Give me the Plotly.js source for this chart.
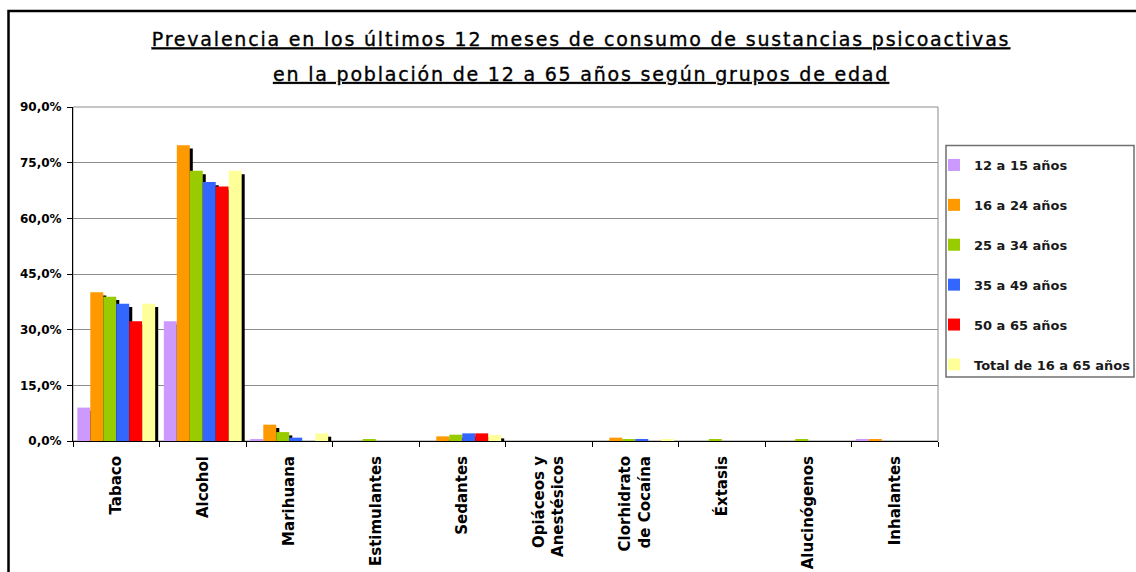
<!DOCTYPE html>
<html>
<head>
<meta charset="utf-8">
<script src="https://cdn.plot.ly/plotly-3.0.1.min.js"></script>
<style>
html,body{margin:0;padding:0;background:#fff;}
#chart{width:1136px;height:572px;}
.gtitle, .annotation-text{letter-spacing:1.8px;stroke:#000;stroke-width:0.35px;}
</style>
</head>
<body>
<div id="chart"></div>
<script>
// ---- data (percent) ----
const categories = ['Tabaco','Alcohol','Marihuana','Estimulantes','Sedantes','Opiáceos y<br>Anestésicos','Clorhidrato<br>de Cocaína','Éxtasis','Alucinógenos','Inhalantes'];
const seriesNames = ['12 a 15 años','16 a 24 años','25 a 34 años','35 a 49 años','50 a 65 años','Total de 16 a 65 años'];
const s12a15  = [9.0, 32.3, 0.45, 0,    0,    0, 0,    0,    0,    0.45];
const s16a24  = [40.1, 79.7, 4.4,  0,    1.25, 0, 0.9,  0,    0,    0.45];
const s25a34  = [38.9, 72.8, 2.4,  0.45, 1.7,  0, 0.45, 0.45, 0.45, 0];
const s35a49  = [37.0, 69.8, 0.9,  0,    2.06, 0, 0.45, 0,    0,    0];
const s50a65  = [32.3, 68.6, 0,    0,    2.06, 0, 0,    0,    0,    0];
const sTotal  = [37.0, 72.8, 2.06, 0,    1.6,  0, 0.3,  0,    0,    0];
const yTickVals   = [0, 15, 30, 45, 60, 75, 90];
const yTickLabels = ['0,0%','15,0%','30,0%','45,0%','60,0%','75,0%','90,0%'];
const titleLine1 = 'Prevalencia en los últimos 12 meses de consumo de sustancias psicoactivas';
const titleLine2 = 'en la población de 12 a 65 años según grupos de edad';

const seriesValues = [s12a15, s16a24, s25a34, s35a49, s50a65, sTotal];
const colors = ['#CC99FF','#FF9900','#99CC00','#3366FF','#FF0000','#FFFF99'];

// ---- geometry helpers (plot area in px) ----
const W = 1136, H = 572;
const L = 73, R = 938, T = 107, B = 441;
const px2x = p => (p - L) / (R - L);
const px2y = p => (B - p) / (B - T);

const barW = 0.15;
const shadowDx = 0.035;
const shadowDy = -0.9;

const traces = [];
// shadows first (drawn behind)
seriesValues.forEach((vals, i) => {
  traces.push({
    type: 'bar', x: categories, y: vals,
    base: shadowDy,
    width: barW, offset: -0.45 + barW * i + shadowDx,
    marker: {color: '#000000', line: {width: 0}},
    showlegend: false, hoverinfo: 'skip'
  });
});
seriesValues.forEach((vals, i) => {
  traces.push({
    type: 'bar', x: categories, y: vals, name: seriesNames[i],
    width: barW, offset: -0.45 + barW * i,
    marker: {color: colors[i], line: {width: 0}},
    legendgroup: 'g' + i,
    hovertemplate: '%{x}: %{y:.1f}%<extra>' + seriesNames[i] + '</extra>'
  });
});

const titleFont = {family: 'DejaVu Sans', size: 19, color: '#000000', lineposition: 'under'};

const layout = {
  width: W, height: H,
  margin: {l: L, r: W - R, t: T, b: H - B, pad: 0, autoexpand: false},
  paper_bgcolor: '#ffffff', plot_bgcolor: '#ffffff',
  separators: ',.',
  barmode: 'overlay',
  showlegend: true,
  title: {
    text: titleLine1,
    font: titleFont,
    xref: 'container', x: 581 / W, xanchor: 'center',
    yref: 'container', y: 1 - 33 / H, yanchor: 'top',
    automargin: false
  },
  annotations: [{
    text: titleLine2, font: titleFont, showarrow: false,
    xref: 'paper', yref: 'paper', x: px2x(581), y: px2y(74.5),
    xanchor: 'center', yanchor: 'middle'
  }],
  xaxis: {
    type: 'category',
    range: [-0.5, categories.length - 0.5],
    showline: true, linecolor: '#000000', linewidth: 1,
    ticks: 'outside', tickson: 'boundaries', ticklen: 5, tickcolor: '#000000',
    tickangle: -90, ticklabelstandoff: 8,
    tickfont: {family: 'DejaVu Sans', size: 15, weight: 'bold', color: '#000000'},
    showgrid: false, fixedrange: true, automargin: false
  },
  yaxis: {
    range: [0, 90],
    tickvals: yTickVals, ticktext: yTickLabels,
    showline: true, linecolor: '#000000', linewidth: 1,
    ticks: 'outside', ticklen: 5, tickcolor: '#000000', ticklabelstandoff: 3,
    tickfont: {family: 'DejaVu Sans', size: 12, weight: 'bold', color: '#000000'},
    showgrid: true, gridcolor: '#8c8c8c', gridwidth: 1,
    zeroline: false, fixedrange: true, automargin: false
  },
  legend: {
    x: px2x(934), y: px2y(150), xanchor: 'left', yanchor: 'top',
    xref: 'paper', yref: 'paper',
    bgcolor: 'rgba(0,0,0,0)', borderwidth: 0,
    font: {family: 'DejaVu Sans', size: 13, weight: 'bold', color: '#1a1a1a'},
    tracegroupgap: 20,
    traceorder: 'grouped'
  },
  shapes: [
    // plot area border (gray)
    {type: 'rect', xref: 'paper', yref: 'paper', x0: 0, x1: 1, y0: 0, y1: 1,
     line: {color: '#8c8c8c', width: 1}, layer: 'below'},
    // legend box
    {type: 'rect', xref: 'paper', yref: 'paper',
     x0: px2x(946), x1: px2x(1134), y0: px2y(377), y1: px2y(145.5),
     line: {color: '#707070', width: 1.5}, fillcolor: 'rgba(0,0,0,0)', layer: 'above'},
    // outer chart frame (black, extends beyond canvas on right/bottom)
    {type: 'rect', xref: 'paper', yref: 'paper',
     x0: px2x(8.5), x1: px2x(1160), y0: px2y(600), y1: px2y(11),
     line: {color: '#000000', width: 2.5}, fillcolor: 'rgba(0,0,0,0)', layer: 'above'}
  ]
};

Plotly.newPlot('chart', traces, layout, {displayModeBar: false, responsive: false});
</script>
</body>
</html>
